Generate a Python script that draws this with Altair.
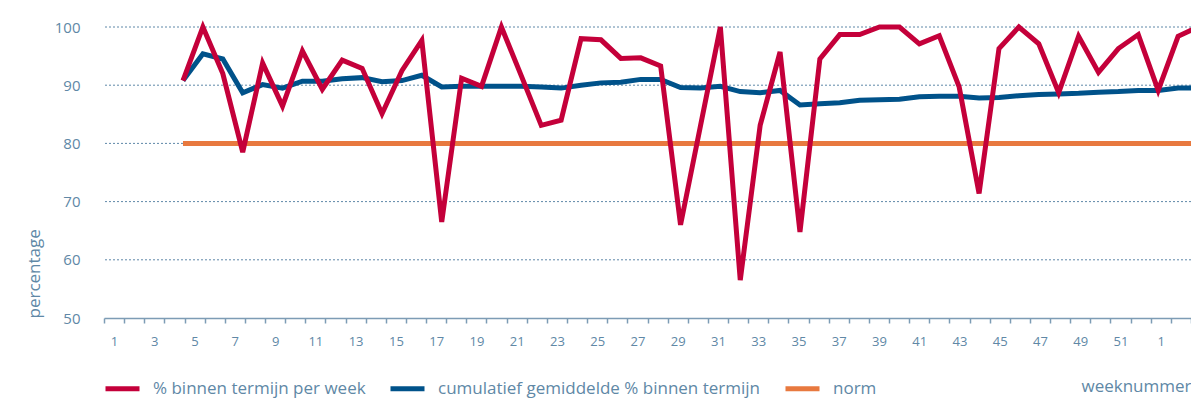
import json
import altair as alt
import pandas as pd

# ---------------- data ----------------
axis_weeks = [str(w) for w in range(1, 53)] + ["1", "2"]          # 54 week slots on the axis
axis_labels = [w if i % 2 == 0 else "" for i, w in enumerate(axis_weeks)]

data_weeks = [str(w) for w in range(5, 53)] + ["1", "2", "3", "4"]  # 52 plotted weeks

pct_week = [90.8, 100, 92.0, 78.5, 93.8, 86.4, 95.9, 89.3, 94.3, 92.9,
            85.1, 92.5, 97.7, 66.5, 91.2, 89.8, 100, 91.6, 83.1, 84.0,
            98.0, 97.8, 94.6, 94.7, 93.3, 66.0, 83.0, 100, 56.5, 83.1,
            95.7, 64.8, 94.5, 98.7, 98.7, 100, 100, 97.1, 98.5, 89.7,
            71.4, 96.3, 100, 97.1, 88.7, 98.4, 92.2, 96.3, 98.7, 89.1,
            98.4, 100]

cum_avg = [90.8, 95.4, 94.5, 88.7, 90.1, 89.5, 90.7, 90.7, 91.1, 91.3,
           90.6, 90.8, 91.7, 89.7, 89.8, 89.8, 89.8, 89.8, 89.7, 89.5,
           90.0, 90.4, 90.5, 91.0, 91.0, 89.6, 89.5, 89.8, 88.9, 88.7,
           89.1, 86.6, 86.8, 87.0, 87.4, 87.5, 87.6, 88.0, 88.1, 88.1,
           87.8, 87.9, 88.2, 88.4, 88.5, 88.6, 88.8, 88.9, 89.1, 89.1,
           89.5, 89.5]

norm_value = 80
norm = [norm_value] * len(data_weeks)

series_names = ["% binnen termijn per week",
                "cumulatief gemiddelde % binnen termijn",
                "norm"]
series_colors = ["#c4003a", "#00528a", "#e8793f"]

y_ticks = [50, 60, 70, 80, 90, 100]
grid_values = [60, 70, 80, 90, 100]

# ---------------- styling ----------------
FONT = "Open Sans"
TXT = "#6088a6"
AXIS_LINE = "#7d9cb5"
GRID = "#5f88a8"


def frame(values, name):
    return pd.DataFrame({"idx": list(range(len(values))),
                         "week": data_weeks,
                         "value": values,
                         "serie": name})


x_line = alt.X("idx:O",
               scale=alt.Scale(type="point", domain=list(range(len(data_weeks))),
                               range=[79, 1094], padding=0),
               axis=None)

y_scale = alt.Scale(domain=[50, 100], nice=False, zero=False)

y_enc = alt.Y("value:Q", scale=y_scale,
              axis=alt.Axis(values=y_ticks, title="percentage", domain=False,
                            ticks=False, labelPadding=24, grid=False,
                            titleAnchor="start", titlePadding=11,
                            labelFontSize=15, titleFontSize=17,
                            titleFontWeight="normal", labelColor=TXT,
                            titleColor=TXT, labelFont=FONT, titleFont=FONT))

color_enc = alt.Color("serie:N",
                      scale=alt.Scale(domain=series_names, range=series_colors),
                      legend=alt.Legend(orient="none", legendX=-1, legendY=342,
                                        direction="horizontal", title=None,
                                        symbolType="stroke", symbolStrokeWidth=5,
                                        symbolSize=1156, labelFontSize=17,
                                        labelOffset=11, columnPadding=14,
                                        labelColor=TXT, labelFont=FONT,
                                        labelLimit=0))


def line_layer(values, name):
    return alt.Chart(frame(values, name)).mark_line(
        strokeWidth=5, strokeJoin="miter", strokeMiterLimit=4
    ).encode(x=x_line, y=y_enc, color=color_enc)


grid_layer = alt.Chart(pd.DataFrame({"value": grid_values})).mark_rule(
    strokeDash=[2, 2], color=GRID, strokeWidth=1
).encode(y=y_enc)

lines = alt.layer(grid_layer,
                  line_layer(norm, series_names[2]),
                  line_layer(cum_avg, series_names[1]),
                  line_layer(pct_week, series_names[0]))

axis_df = pd.DataFrame({"pos": list(range(len(axis_weeks))), "week": axis_weeks})
label_expr = json.dumps(axis_labels) + "[datum.value]"

axis_layer = alt.Chart(axis_df).mark_point(opacity=0).encode(
    x=alt.X("pos:O",
            scale=alt.Scale(paddingInner=0, paddingOuter=0),
            axis=alt.Axis(title="weeknummer", labelExpr=label_expr, labelAngle=0,
                          tickBand="extent", tickSize=5, tickWidth=1.5,
                          tickColor=AXIS_LINE, domainColor=AXIS_LINE,
                          domainWidth=1.5, labelPadding=12, labelFontSize=13,
                          labelColor=TXT, labelFont=FONT,
                          titleAnchor="end", titleY=68, titleBaseline="middle",
                          titleFontSize=17, titleFontWeight="normal",
                          titleColor=TXT, titleFont=FONT))
)

chart = alt.layer(axis_layer, lines).resolve_scale(x="independent").properties(
    width=1087, height=291,
    autosize=alt.AutoSizeParams(type="none"),
    padding={"left": 96, "top": 19, "right": 0, "bottom": 82},
).configure_view(stroke=None)

chart.save("out.html", embed_options={"renderer": "svg", "actions": False})
